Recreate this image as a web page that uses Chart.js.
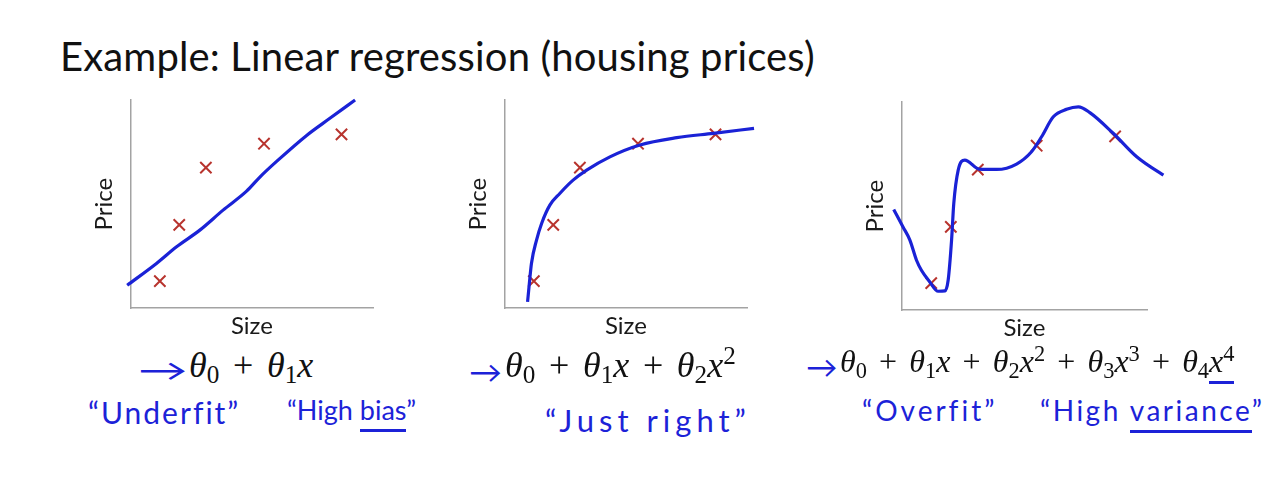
<!DOCTYPE html>
<html>
<head>
<meta charset="utf-8">
<script src="https://cdn.jsdelivr.net/npm/chart.js@4.4.1/dist/chart.umd.min.js"></script>
<style>
  html, body { margin: 0; padding: 0; background: #fff; }
  body { width: 1280px; height: 483px; position: relative; overflow: hidden; font-family: Lato, sans-serif; }
  .abs { position: absolute; white-space: nowrap; }
  canvas { position: absolute; }
  #title { left: 60px; top: 32px; font-size: 40px; line-height: 48px; color: #111; letter-spacing: 0.15px; }
  .math { font-family: "Liberation Serif", serif; font-size: 36px; line-height: 36px; color: #111; }
  .math.small { font-size: 32px; line-height: 32px; }
  .math sub { font-size: 0.7em; font-style: normal; vertical-align: -0.25em; line-height: 0; }
  .math sup { font-size: 0.7em; font-style: normal; vertical-align: 0.5em; line-height: 0; }
  .op { margin: 0 0.38em; }
  .arrow { color: #1c22d8; font-size: 30px; line-height: 34px; transform-origin: left center; }
  .hand { color: #1c22d8; font-size: 28px; line-height: 32px; }
  .ul { border-bottom: 3px solid #1c22d8; padding-bottom: 3px; }
  .ulx { border-bottom: 3px solid #1c22d8; padding-bottom: 2px; }
</style>
</head>
<body>
<div id="title" class="abs">Example: Linear regression (housing prices)</div>

<canvas id="p1" width="330" height="255" style="left:88px; top:88px"></canvas>
<canvas id="p2" width="330" height="255" style="left:462px; top:88px"></canvas>
<canvas id="p3" width="333" height="255" style="left:859px; top:90px"></canvas>

<div class="abs arrow" style="left:138px; top:352px; transform:scaleX(1.65)">→</div>
<div class="abs arrow" style="left:469px; top:354px; transform:scaleX(1.1)">→</div>
<div class="abs arrow" style="left:806px; top:349px; transform:scaleX(1.05)">→</div>

<div class="abs math" style="left:189px; top:347px"><i>θ</i><sub>0</sub><span class="op">+</span><i>θ</i><sub>1</sub><i>x</i></div>
<div class="abs math" style="left:505px; top:347px"><i>θ</i><sub>0</sub><span class="op">+</span><i>θ</i><sub>1</sub><i>x</i><span class="op">+</span><i>θ</i><sub>2</sub><i>x</i><sup>2</sup></div>
<div class="abs math small" style="left:840px; top:345px"><i>θ</i><sub>0</sub><span class="op">+</span><i>θ</i><sub>1</sub><i>x</i><span class="op">+</span><i>θ</i><sub>2</sub><i>x</i><sup>2</sup><span class="op">+</span><i>θ</i><sub>3</sub><i>x</i><sup>3</sup><span class="op">+</span><i>θ</i><sub>4</sub><span class="ulx"><i>x</i><sup>4</sup></span></div>

<div class="abs hand" style="left:88px; top:396px; font-size:30px; letter-spacing:2px">“Underfit”</div>
<div class="abs hand" style="left:287px; top:394px; font-size:27px">“High <span class="ul">bias</span>”</div>
<div class="abs hand" style="left:545px; top:404px; font-size:31px; letter-spacing:5px">“Just right”</div>
<div class="abs hand" style="left:862px; top:394px; letter-spacing:3px">“Overfit”</div>
<div class="abs hand" style="left:1040px; top:394px; letter-spacing:2.5px">“High <span class="ul">variance</span>”</div>

<script>
// training examples (same houses in all three panels)
const sizes = [1.2, 2.0, 3.1, 5.5, 8.7];
const prices = [1.3, 4.0, 6.75, 7.9, 8.35];

// hand-drawn fit, panel 1 (straight line)
const fit1X = [-0.15, 1.06, 1.89, 2.85, 3.81, 4.78, 5.33, 6.02, 7.26, 8.22, 9.26];
const fit1Y = [1.1, 2.15, 2.95, 3.75, 4.71, 5.62, 6.3, 7.05, 8.3, 9.12, 10.0];

// panel 2 (quadratic)
const fit2X = [0.94, 1.0, 1.1, 1.31, 1.52, 1.86, 2.27, 2.82, 3.38, 4.34, 5.58, 7.1, 8.61, 10.29];
const fit2Y = [0.3, 1.02, 2.15, 3.27, 4.07, 4.95, 5.51, 6.15, 6.63, 7.27, 7.84, 8.19, 8.4, 8.64];

// panel 3 (4th order)
const fit3X = [-0.33, 0.05, 0.33, 0.6, 0.8, 1.14, 1.48, 1.76, 1.89, 2.03, 2.12, 2.3, 2.57, 3.16, 3.87,
               4.68, 5.29, 5.7, 6.18, 6.72, 7.2, 7.67, 8.62, 9.58, 10.67, 11.62];
const fit3Y = [4.84, 4.0, 3.37, 2.4, 1.92, 1.36, 0.91, 0.93, 1.44, 3.37, 5.13, 6.73, 7.21, 6.78, 6.76,
               7.02, 7.61, 8.33, 9.29, 9.65, 9.77, 9.49, 8.5, 7.37, 6.49, 5.85];

const blue = '#1a22d6';
const red = '#b8342e';
const axisGrey = '#a3a3a3';

const zip = (xs, ys) => xs.map((x, i) => ({ x, y: ys[i] }));

const axis = (text, padding) => ({
    type: 'linear',
    min: 0,
    max: 10,
    grid: { display: false, drawTicks: false },
    border: { display: true, color: axisGrey, width: 1.5 },
    ticks: { display: false },
    title: {
        display: true,
        text,
        color: '#1a1a1a',
        font: { family: 'Lato', size: 24 },
        padding
    }
});

const makePanel = (id, fitX, fitY) => new Chart(document.getElementById(id), {
    type: 'scatter',
    data: {
        datasets: [{
            data: zip(fitX, fitY),
            showLine: true,
            borderColor: blue,
            borderWidth: 3.2,
            pointRadius: 0,
            cubicInterpolationMode: 'monotone',
            clip: false
        }, {
            data: zip(sizes, prices),
            pointStyle: 'crossRot',
            pointRadius: 8,
            borderColor: red,
            borderWidth: 2
        }]
    },
    options: {
        responsive: false,
        animation: false,
        layout: { autoPadding: false, padding: { top: 12, right: 45, bottom: 0, left: 0 } },
        scales: {
            x: axis('Size', { top: 4, bottom: 2 }),
            y: axis('Price', { top: 2, bottom: 12 })
        },
        plugins: {
            legend: { display: false },
            tooltip: { enabled: false }
        }
    }
});

makePanel('p1', fit1X, fit1Y);
makePanel('p2', fit2X, fit2Y);
makePanel('p3', fit3X, fit3Y);
</script>
</body>
</html>
